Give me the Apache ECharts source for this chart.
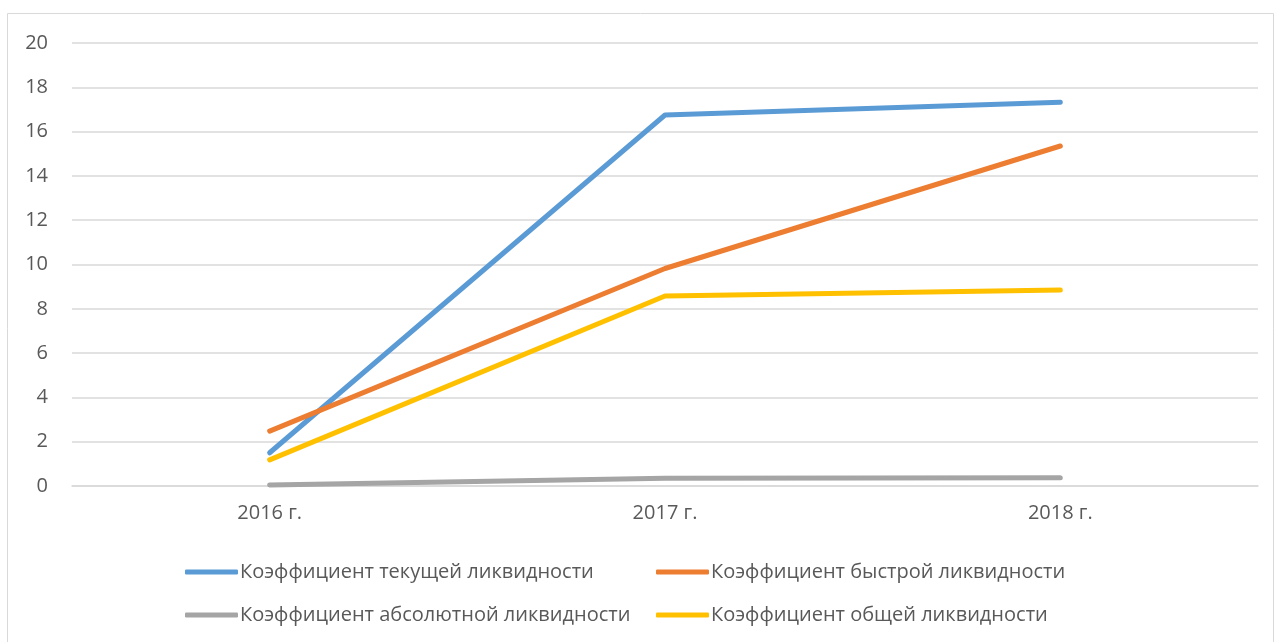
<!DOCTYPE html>
<html>
<head>
<meta charset="utf-8">
<script src="https://cdn.jsdelivr.net/npm/echarts@6/dist/echarts.min.js"></script>
<style>
  html, body { margin: 0; padding: 0; background: #fff; }
  #chart { width: 1279px; height: 642px; }
</style>
</head>
<body>
<div id="chart"></div>
<script>
// данные графика
const years = ['2016 г.', '2017 г.', '2018 г.']
const currentRatio = [1.5, 16.75, 17.33]
const quickRatio = [2.48, 9.82, 15.35]
const absoluteRatio = [0.05, 0.35, 0.37]
const generalRatio = [1.18, 8.58, 8.85]
const seriesNames = [
  'Коэффициент текущей ликвидности',
  'Коэффициент быстрой ликвидности',
  'Коэффициент абсолютной ликвидности',
  'Коэффициент общей ликвидности'
]

const chart = echarts.init(document.getElementById('chart'))
const font = '"Open Sans", sans-serif'
const textColor = '#595959'

function legendAt(name, left, top) {
  return {
    data: [name],
    left: left,
    top: top,
    itemWidth: 53,
    itemHeight: 5,
    itemGap: 0,
    icon: 'roundRect',
    textStyle: { color: textColor, fontSize: 20, fontFamily: font, padding: [0, 0, 0, -3] }
  }
}

function line(name, data, color) {
  return {
    name: name,
    type: 'line',
    data: data,
    symbol: 'none',
    lineStyle: { color: color, width: 5, cap: 'round', join: 'round' },
    itemStyle: { color: color }
  }
}

chart.setOption({
  animation: false,
  graphic: [{
    type: 'rect',
    shape: { x: 7.5, y: 13.5, width: 1266, height: 640 },
    style: { fill: 'none', stroke: '#d9d9d9', lineWidth: 1 }
  }],
  grid: { left: 72, right: 21, top: 43, bottom: 156 },
  xAxis: {
    type: 'category',
    data: years,
    boundaryGap: true,
    axisLine: { lineStyle: { color: '#d9d9d9', width: 1.5 } },
    axisTick: { show: false },
    axisLabel: { color: textColor, fontSize: 20, fontFamily: font, margin: 17 }
  },
  yAxis: {
    type: 'value',
    min: 0,
    max: 20,
    interval: 2,
    axisLine: { show: false },
    axisTick: { show: false },
    splitLine: { lineStyle: { color: '#d9d9d9', width: 1.5 } },
    axisLabel: { color: textColor, fontSize: 20, fontFamily: font, margin: 24 }
  },
  legend: [
    legendAt(seriesNames[0], 180, 557),
    legendAt(seriesNames[1], 651, 557),
    legendAt(seriesNames[2], 180, 600),
    legendAt(seriesNames[3], 651, 600)
  ],
  series: [
    line(seriesNames[0], currentRatio, '#5b9bd5'),
    line(seriesNames[1], quickRatio, '#ed7d31'),
    line(seriesNames[2], absoluteRatio, '#a5a5a5'),
    line(seriesNames[3], generalRatio, '#ffc000')
  ]
})
</script>
</body>
</html>
